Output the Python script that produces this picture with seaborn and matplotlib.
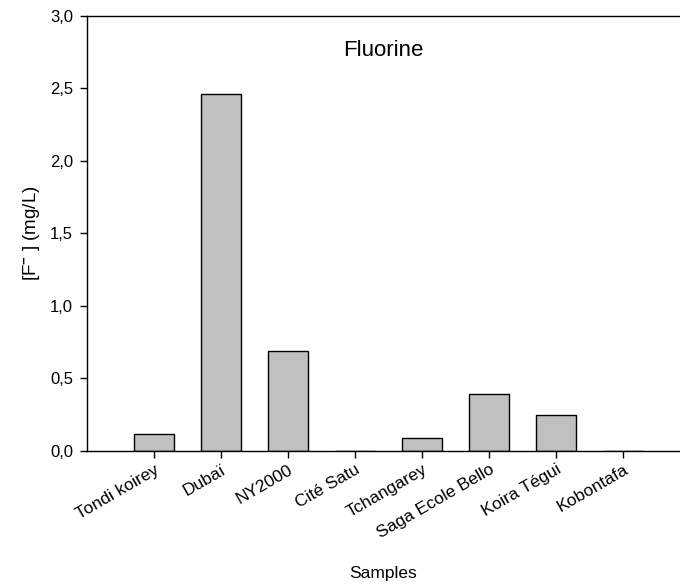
import matplotlib
matplotlib.use("Agg")
import matplotlib.pyplot as plt
import seaborn as sns
import pandas as pd

samples = ["Tondi koirey", "Dubaï", "NY2000", "Cité Satu", "Tchangarey",
           "Saga Ecole Bello", "Koira Tégui", "Kobontafa"]
fluoride = [0.12, 2.46, 0.69, 0.0, 0.09, 0.39, 0.25, 0.0]
y_ticks = [0.0, 0.5, 1.0, 1.5, 2.0, 2.5, 3.0]
y_tick_labels = ["0,0", "0,5", "1,0", "1,5", "2,0", "2,5", "3,0"]

sns.set_style("ticks")
plt.rcParams["font.family"] = ["Liberation Sans", "DejaVu Sans"]
plt.rcParams["text.color"] = "black"
plt.rcParams["axes.labelcolor"] = "black"
plt.rcParams["xtick.color"] = "black"
plt.rcParams["ytick.color"] = "black"
plt.rcParams["mathtext.fontset"] = "custom"
plt.rcParams["mathtext.rm"] = "Liberation Sans"
plt.rcParams["mathtext.it"] = "Liberation Sans"
plt.rcParams["mathtext.bf"] = "Liberation Sans:bold"

df = pd.DataFrame({"Sample": samples, "F": fluoride})

fig = plt.figure(figsize=(6.8, 5.85), dpi=100)
ax = fig.add_axes([0.128, 0.229, 0.872, 0.744])

sns.barplot(data=df, x="Sample", y="F", order=samples, color="#c0c0c0",
            saturation=1, width=0.6, edgecolor="black", linewidth=1.0, ax=ax)

ax.set_xlim(-1.0, 7.85)
ax.set_ylim(0, 3.0)
ax.set_yticks(y_ticks)
ax.set_yticklabels(y_tick_labels, fontsize=12)
ax.set_xticks(range(len(samples)))
ax.set_xticklabels(samples, rotation=30, ha="right", rotation_mode="anchor", fontsize=12.5)
ax.tick_params(axis="x", direction="out", length=5, width=1, color="black", pad=3)
ax.tick_params(axis="y", direction="out", length=5, width=1, color="black", pad=5)

for side in ["left", "bottom", "top"]:
    ax.spines[side].set_color("black")
    ax.spines[side].set_linewidth(1.0)
ax.spines["right"].set_visible(False)

ax.set_xlabel("")
ax.set_ylabel(r"[F$^{\mathbf{-}}$ ] (mg/L)", fontsize=13.5, labelpad=6)
fig.text(0.563, 0.019, "Samples", ha="center", va="center", fontsize=12.5)
ax.text(0.5, 0.92, "Fluorine", transform=ax.transAxes, ha="center", va="center", fontsize=16)

fig.savefig("out.png", dpi=100)
